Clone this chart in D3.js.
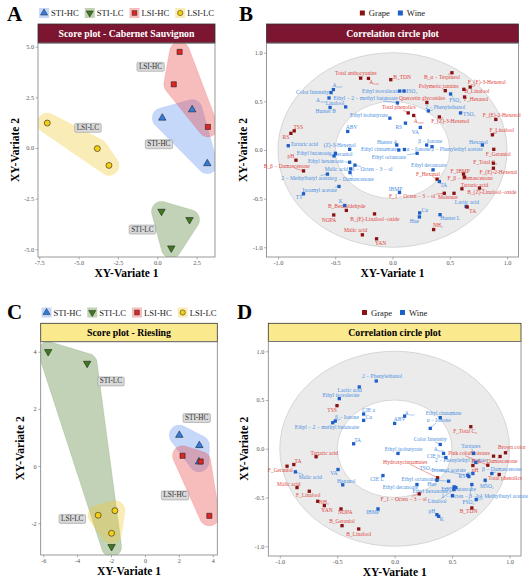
<!DOCTYPE html>
<html><head><meta charset="utf-8">
<script src="https://cdnjs.cloudflare.com/ajax/libs/d3/7.8.5/d3.min.js"></script>
<style>body{margin:0;background:#fff}svg{display:block}text{font-family:"Liberation Serif","Times New Roman",serif}</style>
</head><body><svg id="c" width="530" height="583"></svg>
<script>
// ---------- DATA ----------
const groups = ["STI-HC", "STI-LC", "LSI-HC", "LSI-LC"];
const groupShapes = ["up", "down", "square", "circle"];
const groupFill = ["#2f7de1", "#3c7a1c", "#e02424", "#f6cf12"];
const hullFill = ["#5b8ff0", "#4f7f2f", "#e84040", "#f0c830"];

// Cabernet Sauvignon scores
const cabGroup = ["LSI-HC","LSI-HC","LSI-HC","STI-HC","STI-HC","STI-HC","LSI-LC","LSI-LC","LSI-LC","STI-LC","STI-LC","STI-LC"];
const cabX = [1.42, 1.05, 3.22, 0.32, 2.22, 3.18, -6.99, -3.81, -3.07, 0.27, 2.05, 0.89];
const cabY = [4.74, 3.14, 1.04, 1.48, 1.89, -0.77, 1.23, -0.03, -0.86, -3.13, -3.54, -4.94];
const cabLabelX = [0.10, -0.95, -0.43, -4.41];
const cabLabelY = [0.21, -4.00, 4.03, 1.02];
const cabXTicks = [-7.5, -5, -2.5, 0, 2.5];
const cabYTicks = [-5, -2.5, 0, 2.5, 5];

// Riesling scores
const rieGroup = ["STI-LC","STI-LC","STI-LC","LSI-LC","LSI-LC","LSI-LC","STI-HC","STI-HC","STI-HC","LSI-HC","LSI-HC","LSI-HC"];
const rieX = [-5.71, -3.41, -1.97, -2.76, -1.77, -1.97, 2.03, 3.21, 3.19, 2.22, 3.29, 3.80];
const rieY = [4.00, 3.59, -2.82, -1.72, -1.56, -2.35, 1.08, 0.72, 0.15, 0.36, 0.16, -1.74];
const rieLabelX = [3.05, -2.01, 1.77, -4.29];
const rieLabelY = [1.70, 2.98, -1.01, -1.83];
const rieXTicks = [-6, -4, -2, 0, 2, 4];
const rieYTicks = [-2, 0, 2, 4];

const corrTicks = [-1, -0.5, 0, 0.5, 1];
const varTypes = ["Grape", "Wine"];

// Cabernet correlation variables: [name, type, x, y, labelX, labelY]
const cabVars = [
 ["Total anthocyanins","Grape",-0.278,0.739,-0.32,0.79],
 ["A₅₂₀","Grape",-0.21,0.736,-0.16,0.70],
 ["B_TDN","Grape",-0.015,0.723,0.084,0.746],
 ["Ethyl isovalerate","Wine",0.063,0.606,-0.104,0.61],
 ["MSO₂","Wine",0.10,0.606,0.157,0.61],
 ["Ethyl − 2 − methyl butanoate","Wine",0.043,0.484,-0.235,0.529],
 ["Quercetin glycosides","Grape",0.30,0.488,0.258,0.529],
 ["Total phenolics","Grape",0.137,0.381,0.055,0.437],
 ["2 − Phenylethanol","Wine",0.313,0.402,0.46,0.437],
 ["A₂₈₀","Grape",0.185,0.355,0.229,0.30],
 ["F_(Z)-3-Hexenol","Grape",0.409,0.34,0.504,0.30],
 ["Ethyl isobutyrate","Wine",-0.023,0.327,-0.206,0.355],
 ["RS","Wine",0.113,0.276,0.055,0.238],
 ["VA","Wine",0.243,0.232,0.20,0.187],
 ["ABV","Wine",-0.391,0.191,-0.357,0.232],
 ["B_α − Terpineol","Grape",0.519,0.794,0.432,0.75],
 ["F_(E)-3-Hexenol","Grape",0.678,0.647,0.823,0.698],
 ["Polymeric tannins","Grape",0.461,0.61,0.403,0.662],
 ["B_Linalool","Grape",0.623,0.624,0.737,0.606],
 ["F_Hexanol","Grape",0.629,0.545,0.73,0.525],
 ["FSO₂","Wine",0.507,0.576,0.548,0.511],
 ["TSO₂","Wine",0.594,0.381,0.67,0.368],
 ["F_(E)-2-Hexenol","Grape",0.902,0.314,0.954,0.358],
 ["F_Linalool","Grape",0.872,0.156,0.954,0.204],
 ["Color Intensity","Wine",-0.537,0.59,-0.698,0.596],
 ["A₆₂₀","Wine",-0.516,0.621,-0.481,0.665],
 ["A₄₂₀","Wine",-0.554,0.535,-0.626,0.511],
 ["Linalool","Wine",-0.409,0.443,-0.502,0.478],
 ["Hunter B","Wine",-0.545,0.437,-0.583,0.402],
 ["TSS","Grape",-0.858,0.197,-0.823,0.238],
 ["RS","Grape",-0.887,0.171,-0.93,0.136],
 ["Tartaric acid","Wine",-0.91,0.044,-0.771,0.058],
 ["(Z)-3-Hexenol","Wine",-0.374,0.007,-0.461,0.051],
 ["pH","Grape",-0.843,-0.105,-0.887,-0.058],
 ["Ethyl butanoate","Wine",-0.51,-0.061,-0.684,-0.028],
 ["Geraniol","Wine",-0.498,-0.034,-0.432,-0.041],
 ["Ethyl hexanoate","Wine",-0.374,-0.126,-0.583,-0.109],
 ["Malic acid","Wine",-0.365,-0.194,-0.49,-0.194],
 ["1 − Octen − 3 − ol","Wine",-0.328,-0.156,-0.177,-0.197],
 ["B_β − Damascenone","Grape",-0.777,-0.215,-0.924,-0.161],
 ["2 − Methylbutyl acetate","Wine",-0.568,-0.248,-0.742,-0.289],
 ["β − Damascenone","Wine",-0.371,-0.232,-0.337,-0.30],
 ["Isoamyl acetate","Wine",-0.467,-0.375,-0.635,-0.409],
 ["TT","Wine",-0.777,-0.45,-0.815,-0.484],
 ["K","Wine",-0.417,-0.57,-0.452,-0.521],
 ["B_Benzaldehyde","Grape",-0.403,-0.621,-0.40,-0.58],
 ["NOPA","Grape",-0.513,-0.668,-0.554,-0.716],
 ["B_(E)-Linalool−oxide","Grape",-0.157,-0.657,-0.154,-0.706],
 ["Malic acid","Grape",-0.263,-0.872,-0.322,-0.828],
 ["YAN","Grape",-0.139,-0.913,-0.104,-0.961],
 ["IBMP","Wine",0.061,-0.437,0.026,-0.399],
 ["F_1 − Octen − 3 − ol","Grape",0.452,-0.445,0.171,-0.478],
 ["Moisture","Grape",0.537,-0.445,0.483,-0.486],
 ["Cu","Wine",0.237,-0.647,0.281,-0.613],
 ["Hue","Wine",0.235,-0.688,0.191,-0.726],
 ["Hunter L","Wine",0.415,-0.665,0.504,-0.698],
 ["NH₃","Grape",0.359,-0.818,0.397,-0.767],
 ["Lactic acid","Wine",0.643,-0.58,0.65,-0.539],
 ["TA","Grape",0.652,-0.586,0.70,-0.631],
 ["Ethyl decanoate","Wine",0.354,-0.204,0.316,-0.153],
 ["F_Hexanal","Grape",0.389,-0.30,0.31,-0.248],
 ["TA","Wine",0.409,-0.324,0.446,-0.358],
 ["F_IBMP","Grape",0.62,-0.248,0.591,-0.212],
 ["F_β − Damascenone","Grape",0.629,-0.279,0.678,-0.289],
 ["Tartaric acid","Grape",0.606,-0.399,0.716,-0.365],
 ["B_(Z)-Linalool−oxide","Grape",0.759,-0.392,0.867,-0.437],
 ["F_Total C₆","Grape",0.881,-0.136,0.809,-0.12],
 ["F_(E)-2-Hexenal","Grape",0.881,-0.187,0.924,-0.228],
 ["F_Geraniol","Grape",0.884,0.007,0.924,-0.041],
 ["Hexanol","Wine",0.785,0.051,0.75,0.085],
 ["Hunter A","Wine",0.037,0.051,-0.046,0.085],
 ["β − Ionone","Wine",0.298,0.051,0.33,0.095],
 ["2 − Phenylethyl acetate","Wine",0.345,0.034,0.563,0.007],
 ["Ethyl cinnamate","Wine",0.055,0.0,-0.119,0.007],
 ["α − Ionone","Wine",0.104,0.005,0.226,0.007],
 ["Ethyl octanoate","Wine",0.215,-0.034,-0.032,-0.075]
];

// Riesling correlation variables: [name, type, x, y, labelX, labelY]
const rieVars = [
 ["2 − Phenylethanol","Wine",-0.16,0.695,-0.11,0.741],
 ["Lactic acid","Wine",-0.308,0.634,-0.391,0.603],
 ["Ethyl isovalerate","Wine",-0.482,0.514,-0.467,0.551],
 ["TSS","Grape",-0.502,0.442,-0.545,0.397],
 ["CIE a","Wine",-0.27,0.356,-0.226,0.397],
 ["β − Ionone","Wine",-0.517,0.284,-0.415,0.329],
 ["Cu","Wine",-0.27,0.291,-0.226,0.329],
 ["Ethyl − 2 − methyl butanoate","Wine",-0.539,0.267,-0.589,0.226],
 ["A₄₂₀","Wine",0.087,0.335,0.13,0.37],
 ["ABV","Wine",0.0,0.26,0.043,0.301],
 ["Ethyl cinnamate","Wine",0.397,0.319,0.426,0.37],
 ["α − Ionone","Wine",0.31,0.209,0.383,0.291],
 ["F_Total C₆","Grape",0.663,0.226,0.614,0.181],
 ["TA","Wine",-0.357,0.051,-0.322,0.085],
 ["Ethyl isobutyrate","Wine",0.029,-0.048,0.078,0.0],
 ["Color Intensity","Wine",0.397,0.044,0.31,0.096],
 ["A₅₂₀","Wine",0.426,-0.048,0.383,0.0],
 ["CIE b","Wine",0.446,-0.09,0.339,-0.076],
 ["2 − Phenylethyl acetate","Wine",0.707,-0.141,0.575,-0.118],
 ["Tartrates","Wine",0.687,-0.048,0.663,0.027],
 ["Pink color","Grape",0.811,-0.169,0.565,-0.048],
 ["Moisture","Grape",0.861,-0.076,0.744,-0.048],
 ["Brown color","Grape",0.965,-0.041,1.02,0.021],
 ["B_β − Damascenone","Grape",0.918,-0.079,0.87,-0.13],
 ["β − Damascenone","Wine",0.846,-0.254,0.933,-0.213],
 ["pH","Grape",0.681,-0.172,0.70,-0.222],
 ["Total phenolics","Grape",0.91,-0.264,0.962,-0.298],
 ["MSO₂","Wine",0.788,-0.323,0.803,-0.385],
 ["TSO₂","Wine",0.637,-0.272,0.27,-0.195],
 ["Isoamyl acetate","Wine",0.681,-0.254,0.47,-0.222],
 ["RS","Wine",0.646,-0.285,0.585,-0.282],
 ["Hydroxycinnamates","Grape",0.374,-0.298,0.092,-0.135],
 ["CIE L","Wine",-0.102,-0.275,-0.154,-0.309],
 ["Ethyl octanoate","Wine",0.47,-0.333,0.209,-0.309],
 ["Hue","Wine",0.368,-0.323,0.324,-0.367],
 ["Ethyl decanoate","Wine",0.194,-0.367,0.049,-0.391],
 ["Ethyl hexanoate","Wine",0.518,-0.391,0.31,-0.436],
 ["Ethyl butanoate","Wine",0.533,-0.398,0.557,-0.412],
 ["F_1 − Octen − 3 − ol","Grape",0.214,-0.463,0.078,-0.514],
 ["1 − Octen − 3 − ol","Wine",0.504,-0.48,0.585,-0.485],
 ["2 − Methylbutyl acetate","Wine",0.71,-0.522,0.933,-0.488],
 ["FSO₂","Wine",0.672,-0.367,0.643,-0.552],
 ["Linalool","Wine",0.516,-0.419,0.37,-0.54],
 ["B_TDN","Grape",0.672,-0.607,0.643,-0.642],
 ["pH","Wine",0.368,-0.676,0.324,-0.635],
 ["K","Wine",0.383,-0.693,0.411,-0.72],
 ["IBMP","Wine",-0.145,-0.617,-0.189,-0.652],
 ["Tartaric acid","Grape",-0.684,-0.082,-0.612,-0.041],
 ["TA","Grape",-0.878,-0.162,-0.841,-0.128],
 ["F_Geraniol","Grape",-0.937,-0.179,-0.995,-0.22],
 ["Malic acid","Wine",-0.864,-0.237,-0.734,-0.292],
 ["VA","Wine",-0.493,-0.213,-0.53,-0.247],
 ["Hexanol","Wine",-0.452,-0.37,-0.421,-0.333],
 ["Malic acid","Grape",-0.85,-0.398,-0.922,-0.36],
 ["F_Linalool","Grape",-0.743,-0.436,-0.752,-0.47],
 ["NH₃","Grape",-0.67,-0.539,-0.615,-0.545],
 ["YAN","Grape",-0.612,-0.583,-0.589,-0.632],
 ["NOPA","Grape",-0.467,-0.617,-0.43,-0.652],
 ["B_Geraniol","Grape",-0.458,-0.789,-0.458,-0.745],
 ["B_Linalool","Grape",-0.313,-0.823,-0.313,-0.871]
];

// ---------- DRAWING ----------
const svg = d3.select("#c");
const SERIF = "Liberation Serif";
const typePoint = {Grape: "#8b1212", Wine: "#1f5fc8"};
const typeText = {Grape: "#e0443c", Wine: "#4a8fe2"};

function symPath(shape, size) {
  const t = {up: d3.symbolTriangle, down: d3.symbolTriangle, square: d3.symbolSquare, circle: d3.symbolCircle}[shape];
  return d3.symbol().type(t).size(size)();
}
function hullPath(pts, r) {
  const s = [];
  pts.forEach(([x, y]) => { for (let i = 0; i < 36; i++) { const a = i / 36 * 2 * Math.PI; s.push([x + r * Math.cos(a), y + r * Math.sin(a)]); } });
  const h = d3.polygonHull(s);
  return "M" + h.map(p => p.join(",")).join("L") + "Z";
}
function frame(p, title, stripFill, stripColor) {
  svg.append("rect").attr("x", p.left).attr("y", p.stripTop).attr("width", p.right - p.left).attr("height", p.top - p.stripTop)
    .attr("fill", stripFill).attr("stroke", "#333").attr("stroke-width", 0.8);
  svg.append("text").attr("x", (p.left + p.right) / 2).attr("y", (p.top + p.stripTop) / 2).attr("dy", "0.35em")
    .attr("text-anchor", "middle").attr("font-weight", "bold").attr("font-size", 9.8).attr("fill", stripColor).text(title);
  svg.append("rect").attr("x", p.left).attr("y", p.top).attr("width", p.right - p.left).attr("height", p.bottom - p.top)
    .attr("fill", "none").attr("stroke", "#7f7f7f").attr("stroke-width", 0.8);
  svg.append("text").attr("x", p.letterX).attr("y", p.letterY).attr("font-size", 21).attr("font-weight", "bold").text(p.letter);
  svg.append("text").attr("x", (p.left + p.right) / 2).attr("y", p.bottom + 20).attr("text-anchor", "middle")
    .attr("font-size", 11.5).attr("font-weight", "bold").text("XY-Variate 1");
  svg.append("text").attr("transform", `translate(${p.ytitleX},${(p.top + p.bottom) / 2}) rotate(-90)`).attr("text-anchor", "middle")
    .attr("dy", "0.35em").attr("font-size", 11.5).attr("font-weight", "bold").text("XY-Variate 2");
}
function axes(p, x, y, xt, yt, fmt) {
  const ax = svg.append("g").attr("transform", `translate(0,${p.bottom})`).call(d3.axisBottom(x).tickValues(xt).tickFormat(fmt).tickSize(2.5).tickPadding(1.5));
  const ay = svg.append("g").attr("transform", `translate(${p.left},0)`).call(d3.axisLeft(y).tickValues(yt).tickFormat(fmt).tickSize(2.5).tickPadding(1.5));
  [ax, ay].forEach(a => {
    a.select(".domain").remove();
    a.selectAll("line").attr("stroke", "#666").attr("stroke-width", 0.5);
    a.selectAll("text").attr("fill", "#555").attr("font-size", 6.2).attr("font-family", SERIF);
  });
}

function scorePanel(p, X, Y, G, LX, LY, xt, yt, fmt, title, stripFill, stripColor) {
  const x = d3.scaleLinear().domain(p.xDomain).range([p.left, p.right]);
  const y = d3.scaleLinear().domain(p.yDomain).range([p.bottom, p.top]);
  const cid = "clip" + p.letter;
  svg.append("clipPath").attr("id", cid).append("rect").attr("x", p.left).attr("y", p.top).attr("width", p.right - p.left).attr("height", p.bottom - p.top);
  const hg = svg.append("g").attr("clip-path", `url(#${cid})`);
  groups.forEach((grp, gi) => {
    const pts = X.map((v, i) => [x(v), y(Y[i]), G[i]]).filter(d => d[2] === grp);
    hg.append("path").attr("d", hullPath(pts, 10)).attr("fill", hullFill[gi]).attr("fill-opacity", 0.35)
      .attr("stroke", hullFill[gi]).attr("stroke-opacity", 0.25).attr("stroke-width", 0.6);
  });
  frame(p, title, stripFill, stripColor);
  axes(p, x, y, xt, yt, fmt);
  groups.forEach((grp, gi) => {
    const lg = svg.append("g");
    const t = lg.append("text").attr("x", x(LX[gi])).attr("y", y(LY[gi])).attr("dy", "0.35em").attr("text-anchor", "middle")
      .attr("font-size", 7.2).attr("fill", "#333").text(grp);
    const b = t.node().getBBox();
    lg.insert("rect", "text").attr("x", b.x - 2).attr("y", b.y - 0.5).attr("width", b.width + 4).attr("height", b.height + 1)
      .attr("rx", 1.5).attr("fill", "#d9d9d9").attr("stroke", "#8c8c8c").attr("stroke-width", 0.5);
  });
  X.forEach((v, i) => {
    const gi = groups.indexOf(G[i]);
    const sh = groupShapes[gi];
    const size = sh === "square" ? 26 : sh === "circle" ? 28 : 24;
    svg.append("path").attr("d", symPath(sh, size))
      .attr("transform", `translate(${x(v)},${y(Y[i])})` + (sh === "down" ? " rotate(180)" : ""))
      .attr("fill", groupFill[gi]).attr("stroke", "#222").attr("stroke-width", 0.6);
  });
  const leg = svg.append("g");
  let cx = 0;
  groups.forEach((grp, gi) => {
    const it = leg.append("g").attr("transform", `translate(${cx},0)`);
    it.append("rect").attr("x", 0).attr("y", -5).attr("width", 10).attr("height", 10).attr("fill", hullFill[gi]).attr("fill-opacity", 0.35);
    const sh = groupShapes[gi];
    it.append("path").attr("d", symPath(sh, 22)).attr("transform", "translate(5,0)" + (sh === "down" ? " rotate(180)" : ""))
      .attr("fill", groupFill[gi]).attr("stroke", "#222").attr("stroke-width", 0.5);
    const t = it.append("text").attr("x", 12).attr("dy", "0.35em").attr("font-size", 8.6).attr("fill", "#222").text(grp);
    cx += 12 + t.node().getComputedTextLength() + 6;
  });
  leg.attr("transform", `translate(${(p.left + p.right) / 2 - (cx - 6) / 2},${p.legendY})`);
}

function corrPanel(p, vars, title, stripFill, stripColor) {
  const x = d3.scaleLinear().domain([-1.1, 1.1]).range([p.left, p.right]);
  const y = d3.scaleLinear().domain([-1.1, 1.1]).range([p.bottom, p.top]);
  svg.append("ellipse").attr("cx", x(0)).attr("cy", y(0)).attr("rx", x(1) - x(0)).attr("ry", y(0) - y(1))
    .attr("fill", "#ebebeb").attr("stroke", "#c9c9c9").attr("stroke-width", 0.7);
  svg.append("ellipse").attr("cx", x(0)).attr("cy", y(0)).attr("rx", x(0.5) - x(0)).attr("ry", y(0) - y(0.5))
    .attr("fill", "#ffffff").attr("stroke", "#c9c9c9").attr("stroke-width", 0.7);
  frame(p, title, stripFill, stripColor);
  axes(p, x, y, corrTicks, corrTicks, d => d.toFixed(1));
  const segG = svg.append("g"), txtG = svg.append("g"), ptG = svg.append("g");
  vars.forEach(v => {
    const [name, type, vx, vy, lx, ly] = v;
    const px = x(vx), py = y(vy), cx = x(lx), cy = y(ly);
    const t = txtG.append("text").attr("x", cx).attr("y", cy).attr("dy", "0.35em").attr("text-anchor", "middle")
      .attr("font-size", 5.5).attr("fill", typeText[type]).text(name);
    const b = t.node().getBBox();
    const x0 = b.x - 0.5, x1 = b.x + b.width + 0.5, y0 = b.y + 0.5, y1 = b.y + b.height - 0.5;
    const dx = cx - px, dy = cy - py;
    const tx = dx > 0 ? (x0 - px) / dx : dx < 0 ? (x1 - px) / dx : -Infinity;
    const ty = dy > 0 ? (y0 - py) / dy : dy < 0 ? (y1 - py) / dy : -Infinity;
    const te = Math.max(tx, ty);
    const len = te * Math.hypot(dx, dy);
    if (te > 0 && len > 3.5) {
      segG.append("line").attr("x1", px).attr("y1", py).attr("x2", px + te * dx).attr("y2", py + te * dy)
        .attr("stroke", typeText[type]).attr("stroke-width", 0.5);
    }
    ptG.append("path").attr("d", d3.symbol().type(d3.symbolSquare).size(11)()).attr("transform", `translate(${px},${py})`)
      .attr("fill", typePoint[type]);
  });
  const leg = svg.append("g");
  let lx = 0;
  varTypes.forEach(tp => {
    const it = leg.append("g").attr("transform", `translate(${lx},0)`);
    it.append("rect").attr("x", 0).attr("y", -2.5).attr("width", 5).attr("height", 5).attr("fill", typePoint[tp]);
    const t = it.append("text").attr("x", 9).attr("dy", "0.35em").attr("font-size", 8.6).attr("fill", "#222").text(tp);
    lx += 9 + t.node().getComputedTextLength() + 8;
  });
  leg.attr("transform", `translate(${(p.left + p.right) / 2 - (lx - 8) / 2},${p.legendY})`);
}

const maroon = "#7b1530", yellow = "#fbe98e";
scorePanel({left: 38, right: 215, top: 43, bottom: 257, stripTop: 24, xDomain: [-7.58, 3.67], yDomain: [-5.38, 5.18],
  letter: "A", letterX: 7, letterY: 21, ytitleX: 15, legendY: 13},
  cabX, cabY, cabGroup, cabLabelX, cabLabelY, cabXTicks, cabYTicks, d => d.toFixed(1), "Score plot - Cabernet Sauvignon", maroon, "#fff");
corrPanel({left: 266.5, right: 518.5, top: 43, bottom: 257, stripTop: 24, letter: "B", letterX: 239, letterY: 21, ytitleX: 243, legendY: 13},
  cabVars, "Correlation circle plot", maroon, "#fff");
scorePanel({left: 40.7, right: 217.3, top: 341.7, bottom: 555, stripTop: 323.3, xDomain: [-6.15, 4.27], yDomain: [-3.11, 4.35],
  letter: "C", letterX: 7, letterY: 319, ytitleX: 20, legendY: 312.5},
  rieX, rieY, rieGroup, rieLabelX, rieLabelY, rieXTicks, rieYTicks, d => String(d), "Score plot - Riesling", yellow, "#000");
corrPanel({left: 268.3, right: 521, top: 341.5, bottom: 556, stripTop: 323.3, letter: "D", letterX: 237, letterY: 319, ytitleX: 244, legendY: 312.5},
  rieVars, "Correlation circle plot", yellow, "#000");
</script></body></html>
